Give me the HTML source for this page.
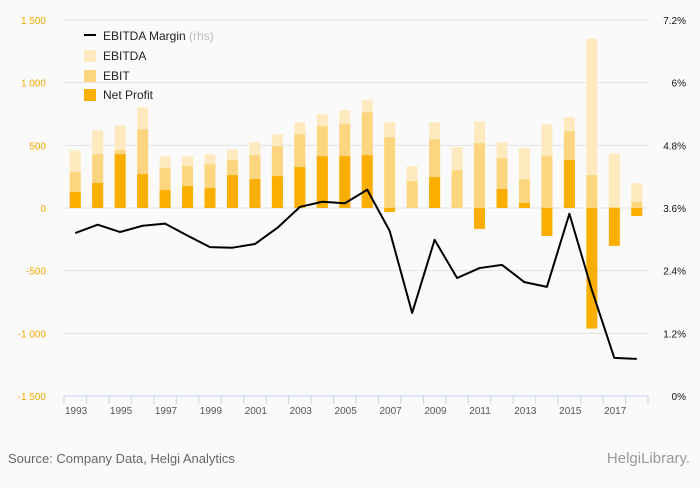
<!DOCTYPE html>
<html><head><meta charset="utf-8"><style>
body{margin:0;background:#fafafa;font-family:"Liberation Sans",sans-serif;}
svg text{font-family:"Liberation Sans",sans-serif;}
</style></head><body>
<svg id="c" width="700" height="483" xmlns="http://www.w3.org/2000/svg">
<rect width="700" height="483" fill="#fafafa"/>
<g id="grid"></g><g id="bars"></g><g id="line"></g><g id="axes"></g>
<g>
<line x1="84" y1="35" x2="96" y2="35" stroke="#000" stroke-width="2"/>
<text x="103" y="40" font-size="12" fill="#222">EBITDA Margin <tspan fill="#bbb">(rhs)</tspan></text>
<rect x="84" y="50" width="12" height="12" fill="#ffeac0"/><text x="103" y="60" font-size="12" fill="#222">EBITDA</text>
<rect x="84" y="70" width="12" height="12" fill="#fdd57f"/><text x="103" y="80" font-size="12" fill="#222">EBIT</text>
<rect x="84" y="89" width="12" height="12" fill="#f9ae00"/><text x="103" y="99" font-size="12" fill="#222">Net Profit</text>
</g>
<text x="8" y="463" font-size="13" fill="#666">Source: Company Data, Helgi Analytics</text>
<text x="690" y="463" font-size="15" fill="#999" text-anchor="end" font-family="Liberation Serif,serif">HelgiLibrary.</text>
</svg>
<script>
const years=[1993,1994,1995,1996,1997,1998,1999,2000,2001,2002,2003,2004,2005,2006,2007,2008,2009,2010,2011,2012,2013,2014,2015,2016,2017,2018];
const ebitda=[461,620,660,803,413,413,429,469,525,588,684,747,779,866,684,334,684,485,692,525,477,668,723,1351,437,199];
const ebit=[286,429,461,628,318,334,350,382,421,493,588,652,668,763,564,215,548,302,517,397,230,413,612,262,8,48];
const netProfit=[127,199,429,270,143,175,159,262,231,254,326,413,413,421,-32,0,246,0,-167,151,40,-223,382,-962,-302,-64];
const margin=[3.12,3.28,3.14,3.26,3.30,3.07,2.85,2.84,2.91,3.22,3.62,3.72,3.69,3.95,3.16,1.59,2.99,2.26,2.45,2.51,2.18,2.09,3.49,2.03,0.73,0.71];
const leftTicks=[1500,1000,500,0,-500,-1000,-1500];
const leftLabels=["1 500","1 000","500","0","-500","-1 000","-1 500"];
const rightTicks=[7.2,6,4.8,3.6,2.4,1.2,0];
const rightLabels=["7.2%","6%","4.8%","3.6%","2.4%","1.2%","0%"];
const NS="http://www.w3.org/2000/svg";
const X0=64,X1=648,Y0=20,Y1=396,n=years.length,bw=(X1-X0)/n;
const y=v=>Y1-(v+1500)/3000*(Y1-Y0);
const yr=v=>Y1-v/7.2*(Y1-Y0);
const xc=i=>X0+bw*(i+0.5);
function mk(t,a,p){const e=document.createElementNS(NS,t);for(const k in a)e.setAttribute(k,a[k]);p.appendChild(e);return e;}
const g=document.getElementById('grid'),b=document.getElementById('bars'),l=document.getElementById('line'),ax=document.getElementById('axes');
leftTicks.forEach((v,i)=>{
 const ln=mk('line',{x1:X0,x2:X1,y1:y(v),y2:y(v),stroke:'#e2e2e2'},g);
 
 
 const t=mk('text',{x:46,y:y(v)+4,'font-size':10,fill:'#f5a800','text-anchor':'end'},ax);t.textContent=leftLabels[i];
 
 
});
rightTicks.forEach((v,i)=>{
 const t=mk('text',{x:686,y:yr(v)+4,'font-size':10,fill:'#111','text-anchor':'end'},ax);t.textContent=rightLabels[i];
 
 
});
function bar(i,v,c,name){
 const a=y(0),bb=y(v);const r=mk('rect',{x:xc(i)-5.5,width:11,y:Math.min(a,bb),height:Math.abs(a-bb),fill:c},b);
 
 
}
years.forEach((yy,i)=>{bar(i,ebitda[i],'#ffeac0','bar-ebitda-'+yy);bar(i,ebit[i],'#fdd57f','bar-ebit-'+yy);bar(i,netProfit[i],'#f9ae00','bar-net-profit-'+yy);});
const pl=mk('polyline',{points:margin.map((m,i)=>xc(i)+','+yr(m)).join(' '),fill:'none',stroke:'#000','stroke-width':2,'stroke-linejoin':'round'},l);


const xa=mk('line',{x1:X0,x2:X1,y1:Y1,y2:Y1,stroke:'#c8d4e8'},ax);


for(let i=0;i<=n;i++){mk('line',{x1:X0+bw*i,x2:X0+bw*i,y1:Y1,y2:Y1+8,stroke:'#c8d4e8'},ax);}
years.forEach((yy,i)=>{if(i%2==0){const t=mk('text',{x:X0+bw*i+1,y:Y1+18,'font-size':10,fill:'#555'},ax);t.textContent=yy;
 
 }});
</script>
</body></html>
